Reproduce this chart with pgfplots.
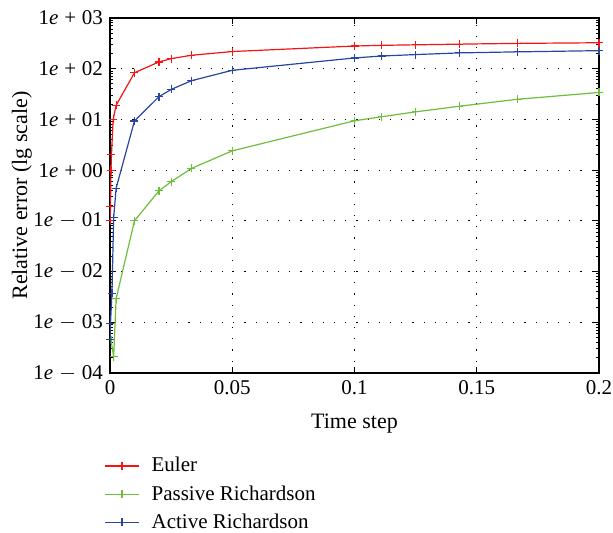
\documentclass[border=0pt]{standalone}
\usepackage{pgfplots}
\pgfplotsset{compat=1.18}
\usepackage{fontspec}
\setmainfont{Liberation Serif}
\definecolor{cEuler}{RGB}{245,20,20}
\definecolor{cPassive}{RGB}{110,190,60}
\definecolor{cActive}{RGB}{40,70,160}
\begin{document}
\begin{tikzpicture}
\begin{axis}[
  name=ax,
  scale only axis,
  width=244.5pt, height=177.5pt,
  ymode=log,
  xmin=0, xmax=0.2, ymin=1e-4, ymax=1e3,
  xtick={0,0.05,0.1,0.15,0.2},
  xticklabels={0,0.05,0.1,0.15,0.2},
  ytick={1e-4,1e-3,1e-2,1e-1,1,1e1,1e2,1e3},
  yticklabels={1\textit{e}\;$-$\;04,1\textit{e}\;$-$\;03,1\textit{e}\;$-$\;02,1\textit{e}\;$-$\;01,1\textit{e}\;+\;00,1\textit{e}\;+\;01,1\textit{e}\;+\;02,1\textit{e}\;+\;03},
  /pgf/number format/assume math mode=true,
  tick align=inside,
  tick pos=both,
  major tick length=3pt,
  minor tick length=1.5pt,
  grid=major,
  major grid style={black, line width=0.5pt, dash pattern=on 0.6pt off 5pt},
  axis line style={black, line width=0.8pt},
  tick style={black, line width=0.5pt},
  tick label style={font=\fontsize{10.5}{12}\selectfont},
  xlabel={Time step},
  ylabel={Relative error (lg scale)},
  every axis x label/.style={at={(axis description cs:0.5,-0.141)}, anchor=center, font=\fontsize{11}{13}\selectfont},
  every axis y label/.style={at={(axis description cs:-0.18,0.5)}, anchor=center, rotate=90, font=\fontsize{11}{13}\selectfont},
  legend style={draw=none, fill=none, at={(axis description cs:-0.0125,-0.225)}, anchor=north west,
    inner sep=0pt, font=\fontsize{10.5}{12}\selectfont, row sep=1.3pt, cells={anchor=west},
    nodes={inner xsep=6pt}},
  legend cell align=left,
  every axis plot/.append style={line width=0.6pt, mark=+, mark size=2pt},
]
\addplot[color=cEuler] coordinates {
(0.0001,0.1) (0.0002,0.19) (0.0004,1.0) (0.0006,2.0) (0.0013,10) (0.0025,19)
(0.01,83) (0.02,136) (0.025,158) (0.0333,184) (0.05,218)
(0.1,280) (0.1111,289) (0.125,296) (0.1429,305) (0.1667,316) (0.2,325)
};
\addlegendentry{Euler}
\addplot[color=cPassive] coordinates {
(0.0004,0.00045) (0.0015,0.00021) (0.0025,0.0029)
(0.01,0.1) (0.02,0.39) (0.025,0.59) (0.0333,1.08) (0.05,2.4)
(0.1,9.4) (0.1111,11.3) (0.125,14.1) (0.1429,18.2) (0.1667,25) (0.2,34)
};
\addlegendentry{Passive Richardson}
\addplot[color=cActive] coordinates {
(0.0001,0.00045) (0.0002,0.00095) (0.0008,0.0037) (0.0015,0.115) (0.0025,0.44)
(0.01,9.3) (0.02,28) (0.025,39) (0.0333,58) (0.05,93)
(0.1,163) (0.1111,178) (0.125,190) (0.1429,205) (0.1667,215) (0.2,227)
};
\addlegendentry{Active Richardson}
\end{axis}
\pgfresetboundingbox
\path[use as bounding box] ([shift={(-55pt,-80pt)}]ax.south west) rectangle ([shift={(7pt,9pt)}]ax.north east);
\end{tikzpicture}
\end{document}
